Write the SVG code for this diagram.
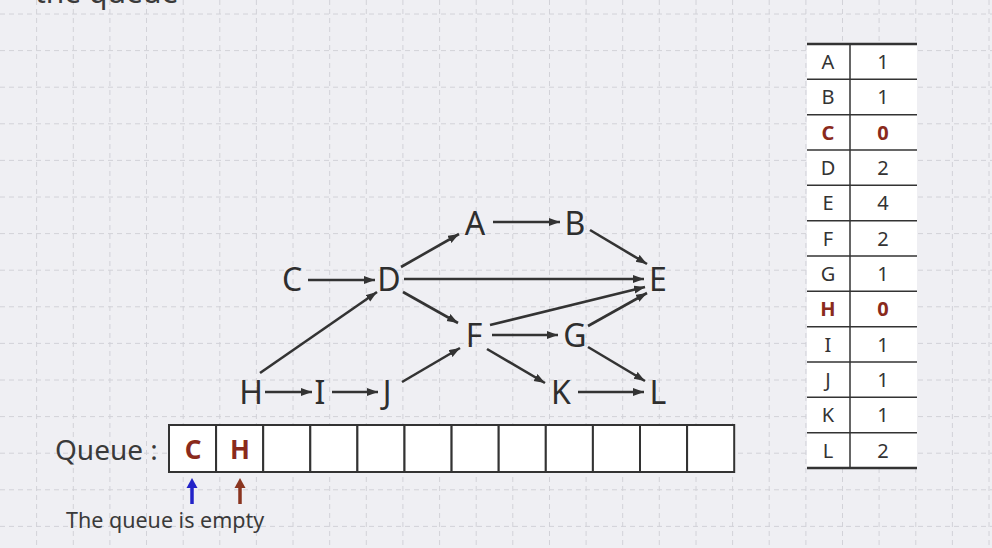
<svg xmlns="http://www.w3.org/2000/svg" width="992" height="548" viewBox="0 0 992 548">
<defs>
<style>
.grid{fill:none;stroke:#d2d2d8;stroke-width:1;stroke-dasharray:5 4}
.node{font-family:"Noto Sans","Open Sans",sans-serif;font-size:32px;fill:#2e2e2e;text-anchor:middle}
.edge{stroke:#333;stroke-width:2.6;fill:none;marker-end:url(#ah)}
.cell{fill:#fff;stroke:#333;stroke-width:2}
.qtxt{font-family:"Noto Sans","Open Sans",sans-serif;font-size:26px;font-weight:bold;fill:#8a2a1c;text-anchor:middle}
.lbl{font-family:"Noto Sans","Open Sans",sans-serif;fill:#3a3a3a}
.tt{font-family:"Noto Sans","Open Sans",sans-serif;font-size:20px;fill:#333;text-anchor:middle}
.tr{fill:#8a2a1c;font-weight:bold}
.tl{stroke:#333;stroke-width:1.5}
</style>
<marker id="ah" markerUnits="userSpaceOnUse" markerWidth="12" markerHeight="9" refX="11" refY="4" orient="auto">
<path d="M0,0 L11,4 L0,8 z" fill="#333"/>
</marker>
</defs>
<rect width="992" height="548" fill="#efeff3"/>
<path class="grid" d="M36.6,0V548M73.3,0V548M109.9,0V548M146.5,0V548M183.2,0V548M219.8,0V548M256.4,0V548M293,0V548M329.7,0V548M366.3,0V548M402.9,0V548M439.6,0V548M476.2,0V548M512.8,0V548M549.5,0V548M586.1,0V548M622.7,0V548M659.3,0V548M696,0V548M732.6,0V548M769.2,0V548M805.9,0V548M842.5,0V548M879.1,0V548M915.8,0V548M952.4,0V548M989,0V548M0,14H992M0,50.6H992M0,87.2H992M0,123.8H992M0,160.4H992M0,197H992M0,233.6H992M0,270.2H992M0,306.8H992M0,343.4H992M0,380H992M0,416.6H992M0,453.2H992M0,489.8H992M0,526.4H992"/>
<text class="lbl" x="35" y="3" font-size="30" fill="#222">the queue</text>

<g id="connectors">
<line class="edge" x1="308" y1="280" x2="375" y2="280"/>
<line class="edge" x1="401" y1="267" x2="459" y2="234"/>
<line class="edge" x1="493" y1="222" x2="560" y2="222"/>
<line class="edge" x1="590" y1="230" x2="647" y2="264"/>
<line class="edge" x1="404" y1="279" x2="644" y2="279"/>
<line class="edge" x1="260" y1="373" x2="377" y2="292"/>
<line class="edge" x1="403" y1="292" x2="458" y2="323"/>
<line class="edge" x1="402" y1="382" x2="460" y2="348"/>
<line class="edge" x1="265" y1="392" x2="312" y2="392"/>
<line class="edge" x1="332" y1="392" x2="378" y2="392"/>
<line class="edge" x1="490" y1="325" x2="645" y2="287"/>
<line class="edge" x1="588" y1="326" x2="647" y2="293"/>
<line class="edge" x1="492" y1="335" x2="558" y2="335"/>
<line class="edge" x1="487" y1="349" x2="545" y2="383"/>
<line class="edge" x1="588" y1="347" x2="645" y2="381"/>
<line class="edge" x1="578" y1="392" x2="644" y2="392"/>
</g>

<g id="node-A"><text class="node" x="475" y="235">A</text></g>
<g id="node-B"><text class="node" x="575" y="235">B</text></g>
<g id="node-C"><text class="node" x="292" y="291">C</text></g>
<g id="node-D"><text class="node" x="389" y="291">D</text></g>
<g id="node-E"><text class="node" x="658" y="291">E</text></g>
<g id="node-F"><text class="node" x="474" y="347">F</text></g>
<g id="node-G"><text class="node" x="575" y="347">G</text></g>
<g id="node-H"><text class="node" x="251" y="404">H</text></g>
<g id="node-I"><text class="node" x="320" y="404">I</text></g>
<g id="node-J"><text class="node" x="387" y="404">J</text></g>
<g id="node-K"><text class="node" x="561" y="404">K</text></g>
<g id="node-L"><text class="node" x="658" y="404">L</text></g>

<g id="queue">
<text class="lbl" x="55" y="460" font-size="28">Queue :</text>
<rect class="cell" x="169" y="425" width="47.1" height="47"/>
<rect class="cell" x="216.1" y="425" width="47.1" height="47"/>
<rect class="cell" x="263.2" y="425" width="47.1" height="47"/>
<rect class="cell" x="310.3" y="425" width="47.1" height="47"/>
<rect class="cell" x="357.4" y="425" width="47.1" height="47"/>
<rect class="cell" x="404.5" y="425" width="47.1" height="47"/>
<rect class="cell" x="451.6" y="425" width="47.1" height="47"/>
<rect class="cell" x="498.7" y="425" width="47.1" height="47"/>
<rect class="cell" x="545.8" y="425" width="47.1" height="47"/>
<rect class="cell" x="592.9" y="425" width="47.1" height="47"/>
<rect class="cell" x="640" y="425" width="47.1" height="47"/>
<rect class="cell" x="687.1" y="425" width="47.1" height="47"/>
<text class="qtxt" x="193" y="459">C</text>
<text class="qtxt" x="240" y="459">H</text>
</g>

<g id="pointers">
<line x1="192" y1="504" x2="192" y2="486" stroke="#2323c8" stroke-width="3.5"/>
<path d="M186.5,488 L192,478 L197.5,488 z" fill="#2323c8"/>
<line x1="240" y1="504" x2="240" y2="486" stroke="#8a3520" stroke-width="3.5"/>
<path d="M234.5,488 L240,478 L245.5,488 z" fill="#8a3520"/>
<text class="lbl" x="66" y="528" font-size="21.5" fill="#444">The queue is empty</text>
</g>

<g id="table">
<rect x="807" y="44" width="110" height="424" fill="#fff"/>
<line class="tl" x1="807" y1="79.3" x2="917" y2="79.3"/>
<line class="tl" x1="807" y1="114.7" x2="917" y2="114.7"/>
<line class="tl" x1="807" y1="150" x2="917" y2="150"/>
<line class="tl" x1="807" y1="185.3" x2="917" y2="185.3"/>
<line class="tl" x1="807" y1="220.7" x2="917" y2="220.7"/>
<line class="tl" x1="807" y1="256" x2="917" y2="256"/>
<line class="tl" x1="807" y1="291.3" x2="917" y2="291.3"/>
<line class="tl" x1="807" y1="326.7" x2="917" y2="326.7"/>
<line class="tl" x1="807" y1="362" x2="917" y2="362"/>
<line class="tl" x1="807" y1="397.3" x2="917" y2="397.3"/>
<line class="tl" x1="807" y1="432.7" x2="917" y2="432.7"/>
<line x1="807" y1="44" x2="917" y2="44" stroke="#333" stroke-width="2.6"/>
<line x1="807" y1="468" x2="917" y2="468" stroke="#333" stroke-width="2.6"/>
<line x1="850" y1="44" x2="850" y2="468" stroke="#333" stroke-width="1.5"/>
<text class="tt" x="828" y="68.8">A</text><text class="tt" x="883" y="68.8">1</text>
<text class="tt" x="828" y="104.1">B</text><text class="tt" x="883" y="104.1">1</text>
<text class="tt tr" x="828" y="139.5">C</text><text class="tt tr" x="883" y="139.5">0</text>
<text class="tt" x="828" y="174.8">D</text><text class="tt" x="883" y="174.8">2</text>
<text class="tt" x="828" y="210.1">E</text><text class="tt" x="883" y="210.1">4</text>
<text class="tt" x="828" y="245.5">F</text><text class="tt" x="883" y="245.5">2</text>
<text class="tt" x="828" y="280.8">G</text><text class="tt" x="883" y="280.8">1</text>
<text class="tt tr" x="828" y="316.1">H</text><text class="tt tr" x="883" y="316.1">0</text>
<text class="tt" x="828" y="351.5">I</text><text class="tt" x="883" y="351.5">1</text>
<text class="tt" x="828" y="386.8">J</text><text class="tt" x="883" y="386.8">1</text>
<text class="tt" x="828" y="422.1">K</text><text class="tt" x="883" y="422.1">1</text>
<text class="tt" x="828" y="457.5">L</text><text class="tt" x="883" y="457.5">2</text>
</g>
</svg>
